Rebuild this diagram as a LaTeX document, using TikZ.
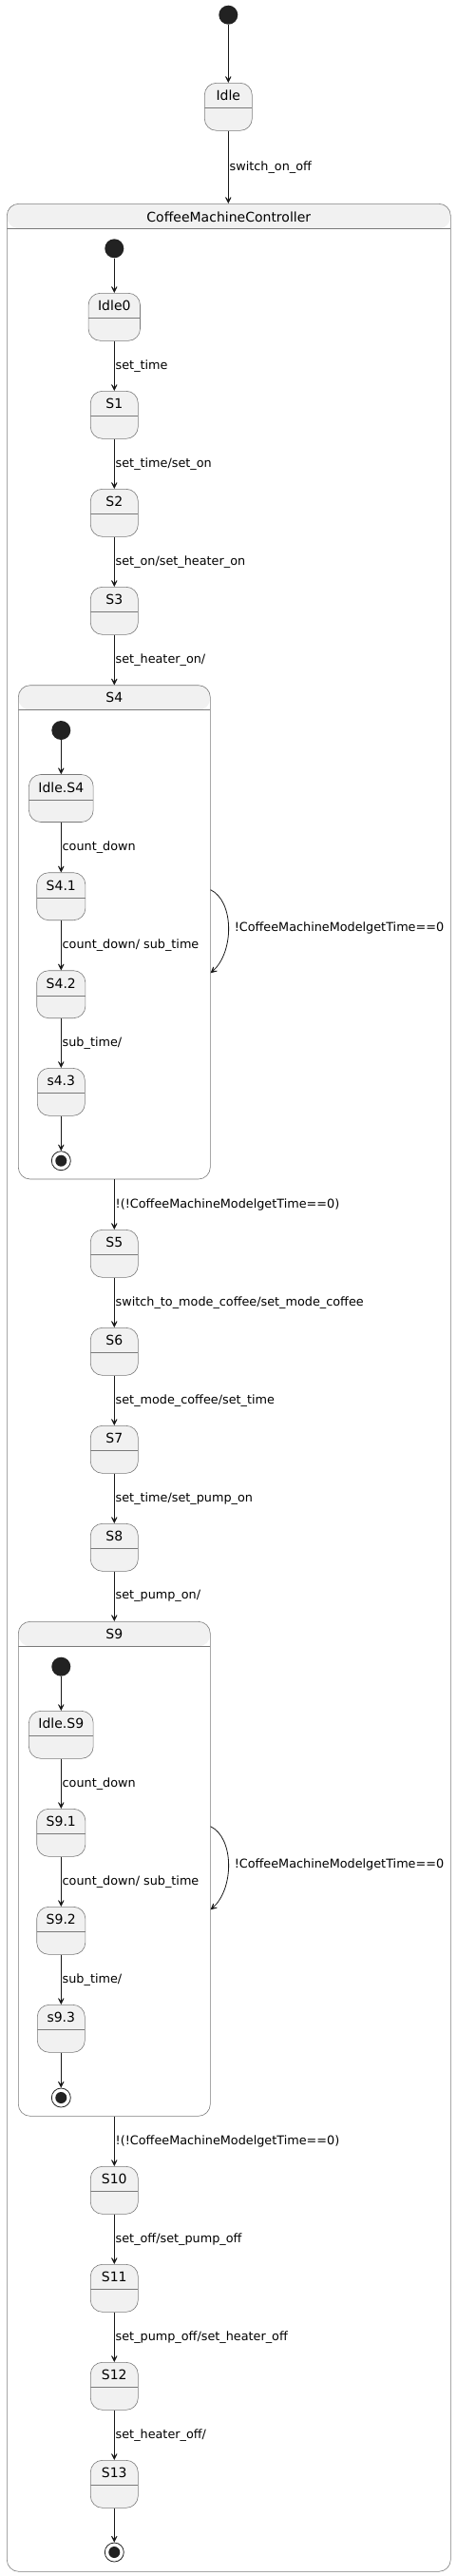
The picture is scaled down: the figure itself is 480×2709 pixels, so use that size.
\documentclass[tikz,border=0pt]{standalone}
\usepackage{fontspec}
\setmainfont{DejaVu Sans}
\usetikzlibrary{arrows.meta}
\definecolor{boxfill}{HTML}{F1F1F1}
\definecolor{boxline}{HTML}{7A7A7A}
\definecolor{ink}{HTML}{181818}
\definecolor{dot}{HTML}{222222}
\tikzset{
  stbox/.style={rectangle, rounded corners=12.5pt, draw=boxline, fill=boxfill, line width=0.6pt,
    minimum width=50pt, inner xsep=10pt, inner ysep=0pt, text height=18.5pt, text depth=31.5pt,
    font=\fontsize{14}{16}\selectfont,
    path picture={\draw[boxline, line width=0.6pt] ([yshift=-26.3pt]path picture bounding box.north west) -- ([yshift=-26.3pt]path picture bounding box.north east);}},
  compbox/.style={rectangle, rounded corners=12.5pt, draw=boxline, fill=white, line width=0.6pt, inner sep=0pt,
    path picture={\fill[boxfill] (path picture bounding box.north west) rectangle ([yshift=-26pt]path picture bounding box.north east);
      \draw[boxline, line width=0.6pt] ([yshift=-26pt]path picture bounding box.north west) -- ([yshift=-26pt]path picture bounding box.north east);}},
  comptitle/.style={font=\fontsize{14}{16}\selectfont, inner sep=0pt},
  initst/.style={circle, fill=dot, minimum size=20pt, inner sep=0pt},
  finalst/.style={circle, draw=dot, line width=0.8pt, fill=white, minimum size=20pt, inner sep=0pt,
    path picture={\fill[dot] (path picture bounding box.center) circle (6pt);}},
  arr/.style={draw=ink, line width=0.8pt, -{Stealth[length=10pt, width=10pt, inset=6.5pt]}},
  lbl/.style={font=\fontsize{12.8}{14}\selectfont, anchor=west, inner sep=1pt, midway}
}
\begin{document}
\begin{tikzpicture}[x=1pt, y=-1pt]
\useasboundingbox (0,0) rectangle (480,2709);

% top level
\node[initst] (I0) at (240.3,15.7) {};
\node[stbox] (Idle) at (240.3,112.3) {Idle};
\node[compbox, minimum width=467pt, minimum height=2490pt] (CMC) at (240.8,1459.3) {};
\node[comptitle] (CMCt) at (240.8,228) {CoffeeMachineController};
\draw[arr] (I0) -- (Idle);
\draw[arr] (Idle) -- node[lbl]{switch\_on\_off} (CMC.north -| Idle);

% main column
\node[initst] (I1) at (120.3,261.3) {};
\node[stbox] (Idle0) at (120.3,333.3) {Idle0};
\node[stbox] (S1) at (120.3,436.3) {S1};
\node[stbox] (S2) at (120.3,539.3) {S2};
\node[stbox] (S3) at (120.3,642.3) {S3};
\node[compbox, minimum width=202pt, minimum height=519.3pt] (S4) at (120.3,980.35) {};
\node[comptitle] (S4t) at (120.3,733.3) {S4};
\node[stbox] (S5) at (120.3,1318.3) {S5};
\node[stbox] (S6) at (120.3,1421.3) {S6};
\node[stbox] (S7) at (120.3,1524.3) {S7};
\node[stbox] (S8) at (120.3,1627.3) {S8};
\node[compbox, minimum width=202pt, minimum height=520pt] (S9) at (120.3,1965.3) {};
\node[comptitle] (S9t) at (120.3,1718.6) {S9};
\node[stbox] (S10) at (120.3,2303.3) {S10};
\node[stbox] (S11) at (120.3,2406.3) {S11};
\node[stbox] (S12) at (120.3,2509.3) {S12};
\node[stbox] (S13) at (120.3,2612.3) {S13};
\node[finalst] (F0) at (120.3,2684) {};

\draw[arr] (I1) -- (Idle0);
\draw[arr] (Idle0) -- node[lbl]{set\_time} (S1);
\draw[arr] (S1) -- node[lbl]{set\_time/set\_on} (S2);
\draw[arr] (S2) -- node[lbl]{set\_on/set\_heater\_on} (S3);
\draw[arr] (S3) -- node[lbl]{set\_heater\_on/} (S4);
\draw[arr] (S4) -- node[lbl]{!(!CoffeeMachineModelgetTime==0)} (S5);
\draw[arr] (S5) -- node[lbl]{switch\_to\_mode\_coffee/set\_mode\_coffee} (S6);
\draw[arr] (S6) -- node[lbl]{set\_mode\_coffee/set\_time} (S7);
\draw[arr] (S7) -- node[lbl]{set\_time/set\_pump\_on} (S8);
\draw[arr] (S8) -- node[lbl]{set\_pump\_on/} (S9);
\draw[arr] (S9) -- node[lbl]{!(!CoffeeMachineModelgetTime==0)} (S10);
\draw[arr] (S10) -- node[lbl]{set\_off/set\_pump\_off} (S11);
\draw[arr] (S11) -- node[lbl]{set\_pump\_off/set\_heater\_off} (S12);
\draw[arr] (S12) -- node[lbl]{set\_heater\_off/} (S13);
\draw[arr] (S13) -- (F0);

% self loops
\draw[arr] ([yshift=44.65pt]S4.east) .. controls +(25,12) and +(25,-22) .. node[lbl, xshift=5pt]{!CoffeeMachineModelgetTime==0} ([yshift=-42.95pt]S4.east);
\draw[arr] ([yshift=44.6pt]S9.east) .. controls +(25,12) and +(25,-22) .. node[lbl, xshift=5pt]{!CoffeeMachineModelgetTime==0} ([yshift=-43pt]S9.east);

% S4 inner
\node[initst] (I4) at (64.3,768) {};
\node[stbox] (IdleS4) at (64.3,839.5) {Idle.S4};
\node[stbox] (S41) at (64.3,942.7) {S4.1};
\node[stbox] (S42) at (64.3,1045.7) {S4.2};
\node[stbox] (S43) at (64.3,1148.3) {s4.3};
\node[finalst] (F4) at (64.3,1220.7) {};
\draw[arr] (I4) -- (IdleS4);
\draw[arr] (IdleS4) -- node[lbl]{count\_down} (S41);
\draw[arr] (S41) -- node[lbl]{count\_down/ sub\_time} (S42);
\draw[arr] (S42) -- node[lbl]{sub\_time/} (S43);
\draw[arr] (S43) -- (F4);

% S9 inner
\node[initst] (I9) at (64.3,1752.7) {};
\node[stbox] (IdleS9) at (64.3,1824.3) {Idle.S9};
\node[stbox] (S91) at (64.3,1927.3) {S9.1};
\node[stbox] (S92) at (64.3,2030.3) {S9.2};
\node[stbox] (S93) at (64.3,2133.3) {s9.3};
\node[finalst] (F9) at (64.3,2206) {};
\draw[arr] (I9) -- (IdleS9);
\draw[arr] (IdleS9) -- node[lbl]{count\_down} (S91);
\draw[arr] (S91) -- node[lbl]{count\_down/ sub\_time} (S92);
\draw[arr] (S92) -- node[lbl]{sub\_time/} (S93);
\draw[arr] (S93) -- (F9);
\end{tikzpicture}
\end{document}
